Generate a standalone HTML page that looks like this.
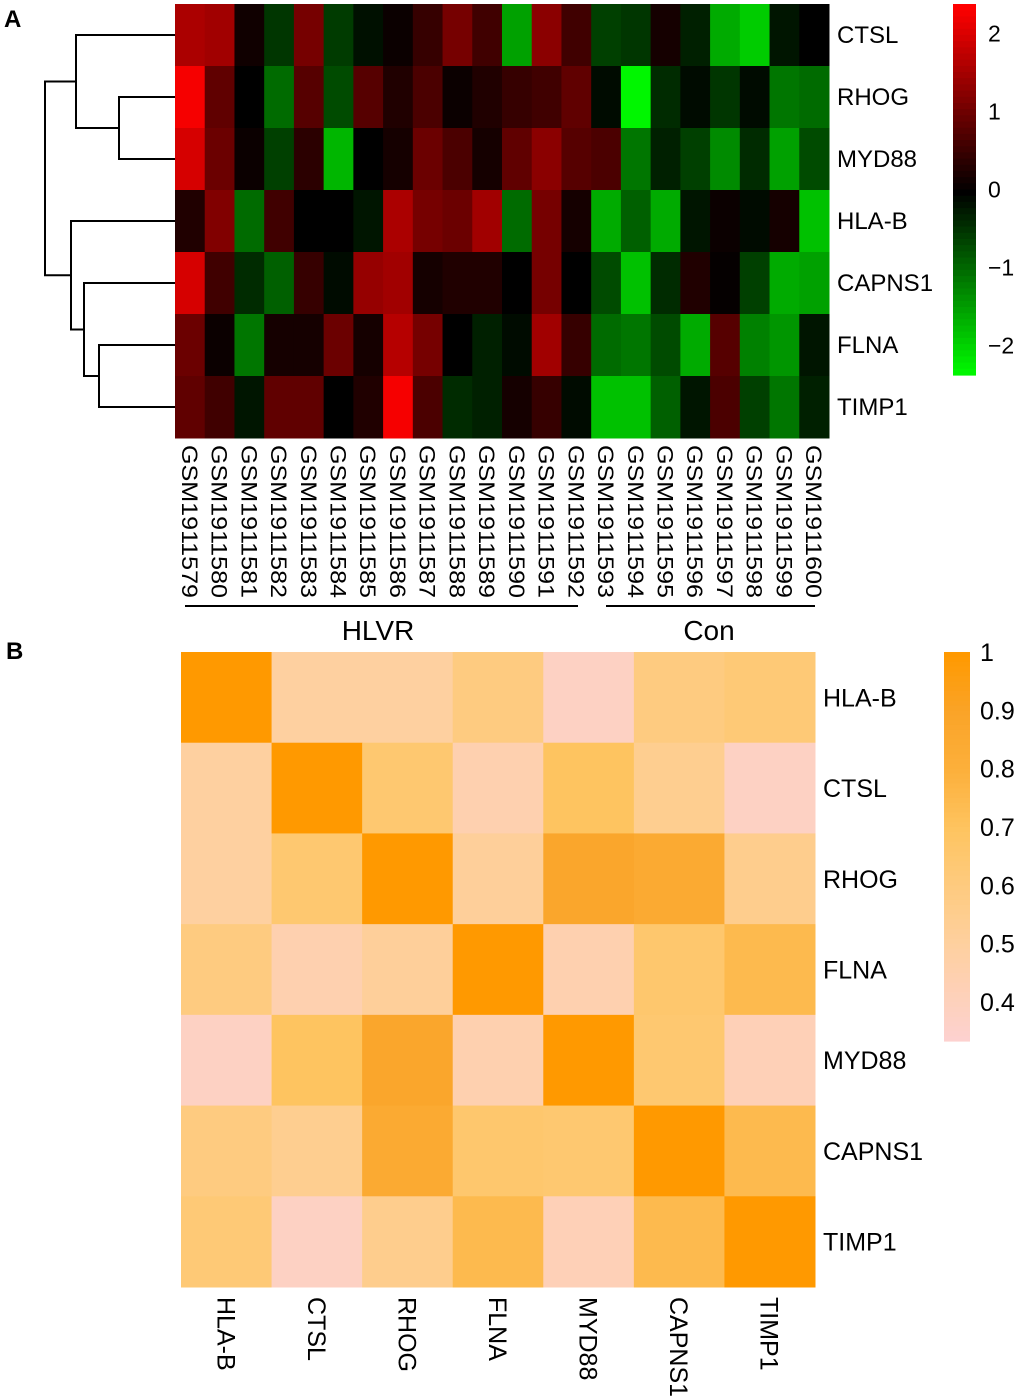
<!DOCTYPE html>
<html><head><meta charset="utf-8"><style>
body{margin:0;background:#fff;}
svg{display:block;font-family:"Liberation Sans",Arial,sans-serif;}
</style></head><body>
<svg id="fig" width="1020" height="1398" viewBox="0 0 1020 1398">
<text x="4" y="27" font-size="24" font-weight="bold">A</text>
<text x="6" y="659" font-size="24" font-weight="bold">B</text>
<g id="gA"></g>
<g id="gB"></g>
</svg>
<script>
const genesA = ["CTSL","RHOG","MYD88","HLA-B","CAPNS1","FLNA","TIMP1"];
const samples = ["GSM1911579","GSM1911580","GSM1911581","GSM1911582","GSM1911583","GSM1911584","GSM1911585","GSM1911586","GSM1911587","GSM1911588","GSM1911589","GSM1911590","GSM1911591","GSM1911592","GSM1911593","GSM1911594","GSM1911595","GSM1911596","GSM1911597","GSM1911598","GSM1911599","GSM1911600"];
const exprCTSL  = [1.6,1.5,0.15,-0.5,1.1,-0.55,-0.15,0.1,0.5,1.1,0.6,-1.5,1.3,0.6,-0.6,-0.5,0.2,-0.3,-1.6,-1.9,-0.2,0];
const exprRHOG  = [2.3,0.9,0,-1.0,0.8,-0.7,0.8,0.3,0.7,0.1,0.3,0.5,0.6,0.9,-0.1,-2.3,-0.4,-0.1,-0.5,-0.1,-1.1,-1.0];
const exprMYD88 = [2.0,1.0,0.1,-0.6,0.4,-1.7,0,0.2,1.0,0.7,0.2,0.9,1.3,0.8,0.7,-1.1,-0.3,-0.6,-1.3,-0.4,-1.5,-0.7];
const exprHLAB  = [0.3,1.2,-1.0,0.6,0,0,-0.2,1.6,1.1,1.0,1.5,-1.0,1.1,0.2,-1.6,-0.9,-1.6,-0.2,0.1,-0.1,0.2,-1.8];
const exprCAPNS1= [2.0,0.6,-0.4,-0.9,0.5,-0.1,1.4,1.5,0.2,0.3,0.3,0,1.1,0,-0.7,-1.8,-0.4,0.3,0.05,-0.6,-1.6,-1.5];
const exprFLNA  = [1.0,0.1,-1.1,0.2,0.2,1.0,0.2,1.7,1.1,0,-0.3,-0.1,1.5,0.5,-1.0,-1.1,-0.7,-1.6,0.8,-1.2,-1.4,-0.2];
const exprTIMP1 = [0.9,0.6,-0.2,0.9,0.9,0,0.3,2.3,0.7,-0.4,-0.3,0.2,0.5,-0.1,-1.8,-1.8,-0.9,-0.2,0.7,-0.6,-1.1,-0.3];
const colorTicksA = [2,1,0,-1,-2];
const genesB = ["HLA-B","CTSL","RHOG","FLNA","MYD88","CAPNS1","TIMP1"];
const corHLAB  = [1,0.5,0.5,0.6,0.38,0.6,0.63];
const corCTSL  = [0.5,1,0.65,0.45,0.7,0.55,0.38];
const corRHOG  = [0.5,0.65,1,0.52,0.88,0.85,0.56];
const corFLNA  = [0.6,0.45,0.52,1,0.45,0.66,0.75];
const corMYD88 = [0.38,0.7,0.88,0.45,1,0.65,0.42];
const corCAPNS1= [0.6,0.55,0.85,0.66,0.65,1,0.75];
const corTIMP1 = [0.63,0.38,0.56,0.75,0.42,0.75,1];
const colorTicksB = [1,0.9,0.8,0.7,0.6,0.5,0.4];

const NS="http://www.w3.org/2000/svg";
function mk(parent,tag,attrs,text){const e=document.createElementNS(NS,tag);for(const k in attrs)e.setAttribute(k,attrs[k]);if(text!==undefined)e.textContent=text;parent.appendChild(e);return e;}

// ---- Panel A
const gA=document.getElementById('gA');
const exprRows=[exprCTSL,exprRHOG,exprMYD88,exprHLAB,exprCAPNS1,exprFLNA,exprTIMP1];
const ax0=175, ax1=829, ay0=4, ay1=438;
const cw=(ax1-ax0)/samples.length, rh=(ay1-ay0)/genesA.length;
const xA=i=>ax0+i*cw, yA=j=>ay0+j*rh;
function colA(v){const t=Math.max(-1,Math.min(1,v/2.38));const c=Math.round(Math.abs(t)*255);return t>=0?`rgb(${c},0,0)`:`rgb(0,${c},0)`;}
exprRows.forEach((row,j)=>row.forEach((v,i)=>{
  const r=mk(gA,'rect',{x:xA(i),y:yA(j),width:cw+0.5,height:rh+0.5,fill:colA(v)});
  
  
}));
genesA.forEach((g,j)=>{
  const t=mk(gA,'text',{x:837,y:yA(j)+rh/2+8,'font-size':24},g);
  
  
});
samples.forEach((s,i)=>{
  const cx=xA(i)+cw/2;
  const t=mk(gA,'text',{x:0,y:0,'font-size':22,textLength:153,lengthAdjust:'spacingAndGlyphs',transform:`translate(${cx-8},445) rotate(90)`},s);
  
  
});
// dendrogram
const leafY=j=>yA(j)+rh/2;
const dend=mk(gA,'g',{stroke:'#000','stroke-width':2,fill:'none'});


function link(x,ya,yb,xa,xb){mk(dend,'path',{d:`M${xa},${ya}H${x}V${yb}H${xb}`});}
const m12=(leafY(1)+leafY(2))/2;
link(119,leafY(1),leafY(2),ax0,ax0);
link(76,leafY(0),m12,ax0,119);
const m56=(leafY(5)+leafY(6))/2;
link(99,leafY(5),leafY(6),ax0,ax0);
const m456=(leafY(4)+m56)/2;
link(84,leafY(4),m56,ax0,99);
const m3=(leafY(3)+m456)/2;
link(71,leafY(3),m456,ax0,84);
const mTop=(leafY(0)+m12)/2;
link(45,mTop,m3,76,71);
// group bars
const gl=mk(gA,'g',{});


mk(gl,'line',{x1:185,x2:578,y1:606,y2:606,stroke:'#000','stroke-width':2});
mk(gl,'line',{x1:606,x2:815,y1:606,y2:606,stroke:'#000','stroke-width':2});
mk(gl,'text',{x:378,y:640,'font-size':28,'text-anchor':'middle'},'HLVR');
mk(gl,'text',{x:709,y:640,'font-size':28,'text-anchor':'middle'},'Con');
// colorbar A
const cbA=mk(gA,'g',{});


const cbTop=4, cbBot=375, vmax=2.38;
const yCbA=v=>cbTop+(vmax-v)/(2*vmax)*(cbBot-cbTop);
for(let k=0;k<60;k++){const v=vmax-k*(2*vmax)/60;mk(cbA,'rect',{x:953,y:yCbA(v),width:23,height:(cbBot-cbTop)/60+0.6,fill:colA(v)});}
colorTicksA.forEach(v=>{mk(cbA,'text',{x:988,y:yCbA(v)+8,'font-size':23},v<0?'\u2212'+Math.abs(v):String(v));});

// ---- Panel B
const gB=document.getElementById('gB');
const corRows=[corHLAB,corCTSL,corRHOG,corFLNA,corMYD88,corCAPNS1,corTIMP1];
const bx0=181,bx1=815,by0=652,by1=1287;
const bw=(bx1-bx0)/genesB.length, bh=(by1-by0)/genesB.length;
const stops=[[0.333,[253,209,209]],[0.5,[254,208,160]],[0.6,[254,203,128]],[0.7,[254,196,96]],[0.8,[252,176,60]],[0.9,[250,164,40]],[1,[255,153,0]]];
function colB(v){v=Math.max(0.333,Math.min(1,v));for(let k=1;k<stops.length;k++){if(v<=stops[k][0]){const a=stops[k-1],b=stops[k];const t=(v-a[0])/(b[0]-a[0]);const c=a[1].map((x,i)=>Math.round(x+(b[1][i]-x)*t));return `rgb(${c})`;}}return 'rgb(255,153,0)';}
corRows.forEach((row,j)=>row.forEach((v,i)=>{
  const r=mk(gB,'rect',{x:bx0+i*bw,y:by0+j*bh,width:bw+0.5,height:bh+0.5,fill:colB(v)});
  
  
}));
genesB.forEach((g,j)=>{
  const t=mk(gB,'text',{x:823,y:by0+j*bh+bh/2+9,'font-size':25},g);
  
  
  const c=mk(gB,'text',{x:0,y:0,'font-size':25,transform:`translate(${bx0+j*bw+bw/2-9},1297) rotate(90)`},g);
  
  
});
const cbB=mk(gB,'g',{});


const yCbB=v=>652+(1-v)/(1-0.333)*(1041-652);
for(let k=0;k<80;k++){const v=1-k*(1-0.333)/80;mk(cbB,'rect',{x:944,y:yCbB(v),width:26,height:(1041-652)/80+0.6,fill:colB(v)});}
colorTicksB.forEach(v=>{mk(cbB,'text',{x:980,y:yCbB(v)+9,'font-size':25},String(v));});
</script>
</body></html>
